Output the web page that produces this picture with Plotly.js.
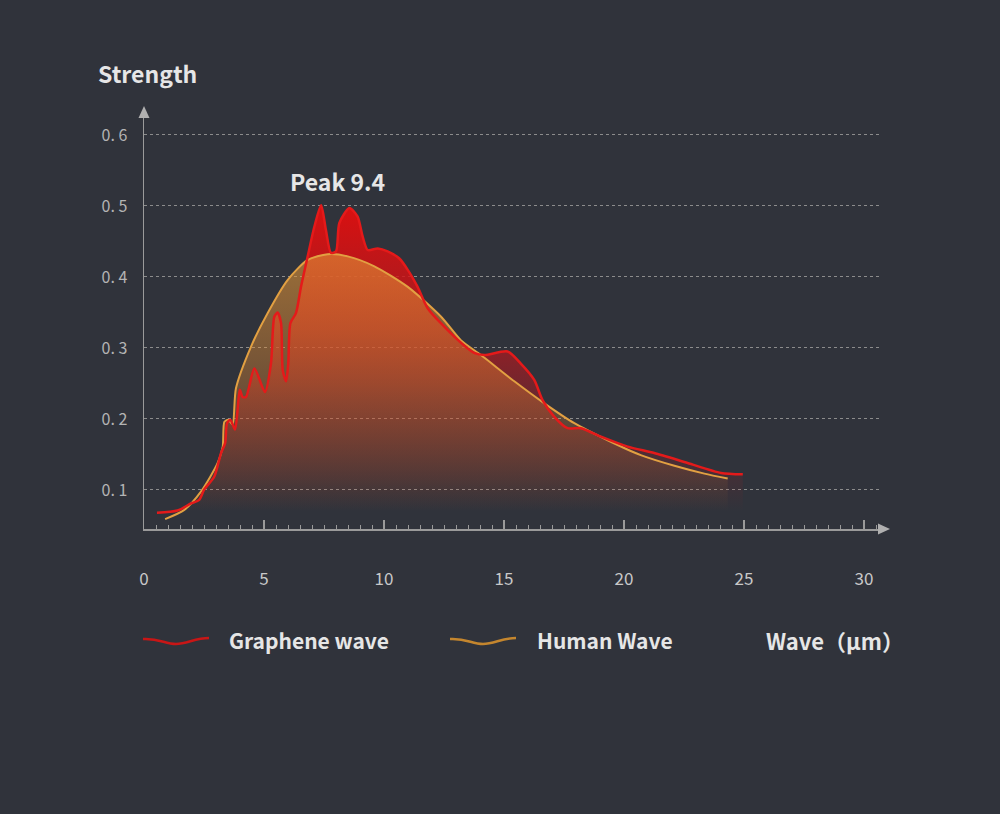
<!DOCTYPE html>
<html>
<head>
<meta charset="utf-8">
<script src="https://cdn.plot.ly/plotly-3.0.1.min.js"></script>
<style>
  html, body { margin: 0; padding: 0; background: #30333b; }
  #myDiv { width: 1000px; height: 814px; }
</style>
</head>
<body>
<div id="myDiv"></div>
<script>
// graphene wave
var grapheneX = [0.54, 1.4, 1.96, 2.3, 2.5, 2.93, 3.21, 3.38, 3.46, 3.6, 3.79, 3.9, 3.99, 4.11, 4.25,
  4.6, 5.04, 5.29, 5.43, 5.57, 5.71, 5.78, 5.92, 6.01, 6.1, 6.33, 6.54, 6.82, 7.1, 7.38, 7.58, 7.79,
  8.0, 8.14, 8.56, 8.9, 9.11, 9.32, 9.74, 10.15, 10.64, 10.99, 11.4, 11.82, 12.93, 13.76, 14.18,
  15.15, 15.7, 16.26, 16.6, 17.1, 17.65, 18.2, 19.04, 20.15, 21.26, 22.65, 24.04, 24.95];
var grapheneY = [0.068, 0.071, 0.081, 0.086, 0.1, 0.119, 0.152, 0.166, 0.194, 0.199, 0.185, 0.213, 0.241, 0.231, 0.231,
  0.271, 0.238, 0.278, 0.344, 0.35, 0.335, 0.269, 0.253, 0.278, 0.335, 0.349, 0.386, 0.429, 0.471, 0.501, 0.466, 0.434,
  0.436, 0.476, 0.497, 0.485, 0.457, 0.438, 0.44, 0.436, 0.426, 0.41, 0.386, 0.356, 0.316, 0.293, 0.29,
  0.295, 0.278, 0.255, 0.227, 0.203, 0.187, 0.187, 0.175, 0.161, 0.152, 0.138, 0.124, 0.122];

// human wave
var humanX = [0.88, 1.68, 2.38, 3.07, 3.28, 3.35, 3.51, 3.69, 3.83, 4.46, 5.15, 5.99, 6.82, 7.65, 8.49,
  9.6, 10.99, 12.38, 13.2, 14.04, 15.43, 16.68, 17.93, 19.32, 20.7, 22.1, 23.35, 24.32];
var humanY = [0.059, 0.072, 0.098, 0.138, 0.161, 0.196, 0.199, 0.192, 0.243, 0.302, 0.349, 0.396, 0.424, 0.432, 0.429,
  0.415, 0.386, 0.344, 0.311, 0.29, 0.253, 0.222, 0.194, 0.17, 0.149, 0.134, 0.123, 0.116];

var yTicks = [0.1, 0.2, 0.3, 0.4, 0.5, 0.6];
var yTickText = ['0. 1', '0. 2', '0. 3', '0. 4', '0. 5', '0. 6'];

var FONT = '"Noto Sans CJK SC", "Noto Sans", sans-serif';
var L = 144, R = 120, T = 117, B = 285, W = 1000, H = 814;
var pw = W - L - R, ph = H - T - B;
function px(x) { return (x - L) / pw; }
function py(y) { return (H - B - y) / ph; }

function pathOf(pts) {
  // pts: [cmd, x, y, x, y ...] in pixels -> paper path
  var s = '';
  pts.forEach(function (p) {
    s += p[0];
    for (var i = 1; i < p.length; i += 2) {
      s += (i > 1 ? ' ' : '') + px(p[i]).toFixed(5) + ',' + py(p[i + 1]).toFixed(5) + ' ';
    }
  });
  return s;
}

function wave(x0, y0, color) {
  return {
    type: 'path', xref: 'paper', yref: 'paper',
    path: pathOf([['M', x0, y0], ['C', x0 + 16, y0 - 1, x0 + 22, y0 + 5, x0 + 33, y0 + 5],
                  ['S', x0 + 52, y0 - 1, x0 + 66, y0 - 1]]),
    line: {color: color, width: 2.5}
  };
}

var grapheneFill = {
  x: grapheneX, y: grapheneY, type: 'scatter', mode: 'lines',
  line: {width: 0, shape: 'spline', smoothing: 0.7},
  fill: 'tozeroy',
  fillgradient: {
    type: 'vertical', start: 0.07, stop: 0.5,
    colorscale: [[0, 'rgba(210,20,24,0)'], [0.35, 'rgba(200,20,28,0.35)'],
                 [0.6, 'rgba(205,20,24,0.7)'], [1, 'rgba(218,16,16,1)']]
  },
  hoverinfo: 'skip', showlegend: false
};

var humanFill = {
  x: humanX, y: humanY, type: 'scatter', mode: 'lines', name: 'Human Wave',
  line: {color: '#e2a042', width: 2, shape: 'spline', smoothing: 0.7},
  fill: 'tozeroy',
  fillgradient: {
    type: 'vertical', start: 0.07, stop: 0.43,
    colorscale: [[0, 'rgba(235,140,45,0)'], [0.5, 'rgba(232,138,48,0.35)'], [1, 'rgba(225,150,55,0.6)']]
  },
  showlegend: false
};

var grapheneLine = {
  x: grapheneX, y: grapheneY, type: 'scatter', mode: 'lines', name: 'Graphene wave',
  line: {color: '#e41a1a', width: 2.5, shape: 'spline', smoothing: 0.7},
  showlegend: false
};

var shapes = [
  // axis arrows
  {type: 'path', xref: 'paper', yref: 'paper', path: pathOf([['M', 144, 106], ['L', 138.5, 118], ['L', 149.5, 118]]) + 'Z',
   fillcolor: '#b0b0b0', line: {width: 0}},
  {type: 'path', xref: 'paper', yref: 'paper', path: pathOf([['M', 890, 529], ['L', 878, 523.5], ['L', 878, 534.5]]) + 'Z',
   fillcolor: '#b0b0b0', line: {width: 0}},
  wave(143, 639, '#c81616'),
  wave(450, 639, '#c4862e')
];

var textFont = {family: FONT, size: 21, color: '#e6e6e6', weight: 600};
var annotations = [
  {xref: 'paper', yref: 'paper', x: px(96), y: py(73), xanchor: 'left', yanchor: 'middle',
   text: 'Strength', showarrow: false, font: {family: FONT, size: 23, color: '#e6e6e6', weight: 600}},
  {xref: 'x', yref: 'y', x: 8.08, y: 0.535, xanchor: 'center', yanchor: 'middle',
   text: 'Peak 9.4', showarrow: false, font: {family: FONT, size: 23, color: '#e6e6e6', weight: 600}},
  {xref: 'paper', yref: 'paper', x: px(227), y: py(640), xanchor: 'left', yanchor: 'middle',
   text: 'Graphene wave', showarrow: false, font: textFont},
  {xref: 'paper', yref: 'paper', x: px(535), y: py(640), xanchor: 'left', yanchor: 'middle',
   text: 'Human Wave', showarrow: false, font: textFont},
  {xref: 'paper', yref: 'paper', x: px(764), y: py(640), xanchor: 'left', yanchor: 'middle',
   text: 'Wave（μm）', showarrow: false, font: {family: FONT, size: 22, color: '#e6e6e6', weight: 600}}
];

var layout = {
  width: W, height: H,
  margin: {l: L, r: R, t: T, b: B, pad: 0},
  paper_bgcolor: '#30333b',
  plot_bgcolor: 'rgba(0,0,0,0)',
  showlegend: false,
  font: {family: FONT, color: '#c8c8c8'},
  xaxis: {
    range: [0, pw / 24], fixedrange: true,
    showgrid: false, zeroline: false,
    showline: true, linecolor: '#9a9a9a', linewidth: 1.5,
    tick0: 0, dtick: 5, ticks: 'inside', ticklen: 9, tickwidth: 1.5, tickcolor: '#9a9a9a',
    minor: {dtick: 0.5, ticks: 'inside', ticklen: 4, tickwidth: 1, tickcolor: '#9a9a9a'},
    ticklabelstandoff: 34,
    tickfont: {family: FONT, size: 17, color: '#c8c8c8'}
  },
  yaxis: {
    range: [0.045, 0.045 + ph / 710], fixedrange: true,
    tickvals: yTicks, ticktext: yTickText,
    showgrid: true, gridcolor: '#8c8c8c', gridwidth: 1, griddash: '3px,3px',
    zeroline: false,
    showline: true, linecolor: '#9a9a9a', linewidth: 1.5,
    ticks: '', ticklabelstandoff: 12,
    tickfont: {family: FONT, size: 16, color: '#b4b4b4'}
  },
  shapes: shapes,
  annotations: annotations
};

Plotly.newPlot('myDiv', [grapheneFill, humanFill, grapheneLine], layout, {displayModeBar: false, staticPlot: true});
</script>
</body>
</html>
